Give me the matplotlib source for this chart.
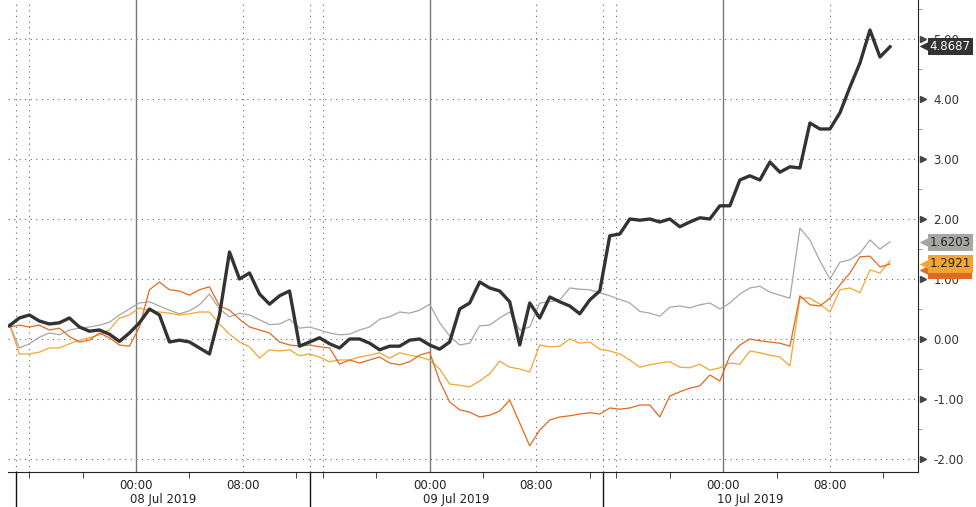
import numpy as np
import matplotlib
matplotlib.use("Agg")
import matplotlib.pyplot as plt
import matplotlib.transforms as mtransforms

# session hours on the chart's trading timeline (each day block = 22 h, starts 15:00)
hours = -0.5 + 0.75 * np.arange(89)

black = [0.22, 0.35, 0.40, 0.30, 0.25, 0.27, 0.35, 0.20, 0.13, 0.15,
         0.08, -0.04, 0.10, 0.27, 0.50, 0.40, -0.05, -0.02, -0.05, -0.15,
         -0.25, 0.40, 1.45, 1.00, 1.10, 0.75, 0.58, 0.72, 0.80, -0.12,
         -0.05, 0.02, -0.08, -0.15, 0.00, 0.00, -0.07, -0.18, -0.12, -0.12,
         -0.02, 0.00, -0.10, -0.17, -0.05, 0.50, 0.60, 0.95, 0.85, 0.80,
         0.62, -0.10, 0.60, 0.35, 0.70, 0.62, 0.55, 0.42, 0.65, 0.80,
         1.72, 1.75, 2.00, 1.98, 2.00, 1.95, 2.00, 1.87, 1.95, 2.02,
         2.00, 2.22, 2.22, 2.65, 2.72, 2.65, 2.95, 2.78, 2.87, 2.85,
         3.60, 3.50, 3.50, 3.77, 4.20, 4.60, 5.15, 4.70, 4.87]

grey = [0.25, -0.15, -0.08, 0.03, 0.10, 0.07, 0.15, 0.18, 0.20, 0.23,
        0.28, 0.40, 0.50, 0.60, 0.62, 0.55, 0.48, 0.42, 0.47, 0.57,
        0.75, 0.50, 0.37, 0.43, 0.40, 0.32, 0.24, 0.25, 0.33, 0.18,
        0.20, 0.15, 0.10, 0.07, 0.08, 0.15, 0.20, 0.33, 0.37, 0.45,
        0.43, 0.48, 0.58, 0.27, 0.05, -0.10, -0.07, 0.22, 0.23, 0.35,
        0.45, 0.15, 0.20, 0.60, 0.62, 0.65, 0.85, 0.83, 0.82, 0.77,
        0.72, 0.66, 0.60, 0.46, 0.43, 0.38, 0.53, 0.55, 0.52, 0.57,
        0.60, 0.50, 0.60, 0.75, 0.85, 0.88, 0.78, 0.73, 0.68, 1.85,
        1.65, 1.30, 1.00, 1.28, 1.32, 1.43, 1.65, 1.50, 1.62]

orange = [0.20, 0.23, 0.20, 0.23, 0.15, 0.18, 0.04, -0.05, -0.02, 0.10,
          0.02, -0.10, -0.12, 0.20, 0.82, 0.95, 0.82, 0.80, 0.73, 0.82,
          0.87, 0.55, 0.48, 0.33, 0.20, 0.15, 0.10, -0.05, -0.10, -0.12,
          -0.10, -0.13, -0.15, -0.42, -0.35, -0.40, -0.35, -0.30, -0.40, -0.43,
          -0.38, -0.27, -0.22, -0.70, -1.05, -1.18, -1.22, -1.30, -1.27, -1.20,
          -1.02, -1.40, -1.78, -1.52, -1.35, -1.30, -1.28, -1.25, -1.23, -1.25,
          -1.15, -1.17, -1.15, -1.10, -1.10, -1.30, -0.95, -0.88, -0.82, -0.78,
          -0.60, -0.70, -0.28, -0.10, 0.00, -0.03, -0.05, -0.07, -0.12, 0.72,
          0.57, 0.55, 0.68, 0.90, 1.10, 1.37, 1.38, 1.20, 1.25]

amber = [0.25, -0.25, -0.25, -0.22, -0.15, -0.15, -0.08, -0.02, 0.02, 0.07,
         0.15, 0.35, 0.40, 0.52, 0.47, 0.45, 0.43, 0.40, 0.42, 0.45,
         0.45, 0.25, 0.08, -0.05, -0.13, -0.32, -0.18, -0.20, -0.18, -0.28,
         -0.25, -0.30, -0.38, -0.35, -0.35, -0.30, -0.27, -0.23, -0.32, -0.23,
         -0.27, -0.30, -0.35, -0.50, -0.75, -0.77, -0.80, -0.70, -0.58, -0.37,
         -0.47, -0.50, -0.55, -0.10, -0.13, -0.12, 0.00, -0.07, -0.05, -0.17,
         -0.20, -0.25, -0.35, -0.47, -0.43, -0.40, -0.38, -0.47, -0.48, -0.42,
         -0.52, -0.48, -0.40, -0.42, -0.20, -0.23, -0.27, -0.30, -0.45, 0.68,
         0.68, 0.58, 0.45, 0.82, 0.85, 0.77, 1.15, 1.10, 1.30]

last_labels = ["4.8687", "1.6203", "1.2921", "1.2xxx"]

day_starts = [0, 22, 44]
day_names = ["08 Jul 2019", "09 Jul 2019", "10 Jul 2019"]
yticks = [-2, -1, 0, 1, 2, 3, 4, 5]
ytick_labels = ["-2.00", "-1.00", "0.00", "1.00", "2.00", "3.00", "4.00", "5.00"]

c_black = "#333333"
c_grey = "#a6a6a6"
c_orange = "#e2691f"
c_amber = "#f3a532"

fig = plt.figure(figsize=(9.76, 5.07), dpi=100)
ax = fig.add_axes([8 / 976, 35 / 507, 910 / 976, 472 / 507])

# grid
dot = (0, (1, 4))
for v in yticks:
    ax.axhline(v, color="#666666", lw=0.8, ls=dot, zorder=1)
for d in day_starts:
    ax.axvline(d + 9, color="#777777", lw=1.0, zorder=1)
    for off in (0, 1, 17):
        ax.axvline(d + off, color="#666666", lw=0.8, ls=dot, zorder=1)

ax.plot(hours, grey, color=c_grey, lw=0.9, zorder=3)
ax.plot(hours, amber, color=c_amber, lw=0.9, zorder=4)
ax.plot(hours, orange, color=c_orange, lw=0.9, zorder=5)
ax.plot(hours, black, color=c_black, lw=2.4, zorder=6, solid_joinstyle="round")

# spines
for s in ("left", "top"):
    ax.spines[s].set_visible(False)
ax.spines["right"].set_color("#222222")
ax.spines["bottom"].set_color("#222222")

# y axis on the right
ax.yaxis.tick_right()
ax.set_yticks(yticks)
ax.set_yticklabels(ytick_labels)
ax.set_yticks([v + 0.5 for v in yticks], minor=True)
ax.tick_params(axis="y", which="major", length=0, pad=11, labelsize=8.5, labelcolor="#333333")
ax.tick_params(axis="y", which="minor", length=3, color="#888888")
trans_y = mtransforms.blended_transform_factory(ax.transAxes, ax.transData)

# x axis
major = [d + h for d in day_starts for h in (9, 17)]
ax.set_xticks(major)
ax.set_xticklabels(["00:00", "08:00"] * 3)
ax.set_xticks([d + h for d in day_starts for h in (1, 5, 13, 21)], minor=True)
ax.tick_params(axis="x", which="major", length=0, pad=5, labelsize=8.5, labelcolor="#222222")
ax.tick_params(axis="x", which="minor", length=4, color="#222222")

# limits after ticks so the tick lists do not widen them
ax.set_xlim(-0.6, 67.6)
ax.set_ylim(-2.217, 5.65)

ax.plot([1.006] * len(yticks), yticks, ls="none", marker=">", ms=4.5,
        color="#444444", transform=trans_y, clip_on=False, zorder=7)

trans_x = mtransforms.blended_transform_factory(ax.transData, ax.transAxes)
for d, name in zip(day_starts, day_names):
    ax.plot([d, d], [0, -0.075], color="#111111", lw=1.0, transform=trans_x, clip_on=False)
    ax.text(d + 11, -0.058, name, transform=trans_x, ha="center", va="center",
            fontsize=8.5, color="#222222")

# last value tags: small pointer plus a square box
tags = [(1.15, last_labels[3], c_orange, "#222222"),
        (1.25, last_labels[2], c_amber, "#222222"),
        (1.61, last_labels[1], c_grey, "#222222"),
        (4.88, last_labels[0], c_black, "white")]
for k, (yv, txt, fc, tc) in enumerate(tags):
    ax.plot([1.0075], [yv], ls="none", marker="<", ms=8, color=fc, mec="none",
            transform=trans_y, clip_on=False, zorder=10 + 2 * k)
    ax.text(1.013, yv, txt, transform=trans_y, ha="left", va="center", fontsize=8.5,
            color=tc, zorder=11 + 2 * k, clip_on=False,
            bbox=dict(boxstyle="square,pad=0.18", fc=fc, ec="none"))

fig.savefig("out.png", dpi=100, facecolor="white")
